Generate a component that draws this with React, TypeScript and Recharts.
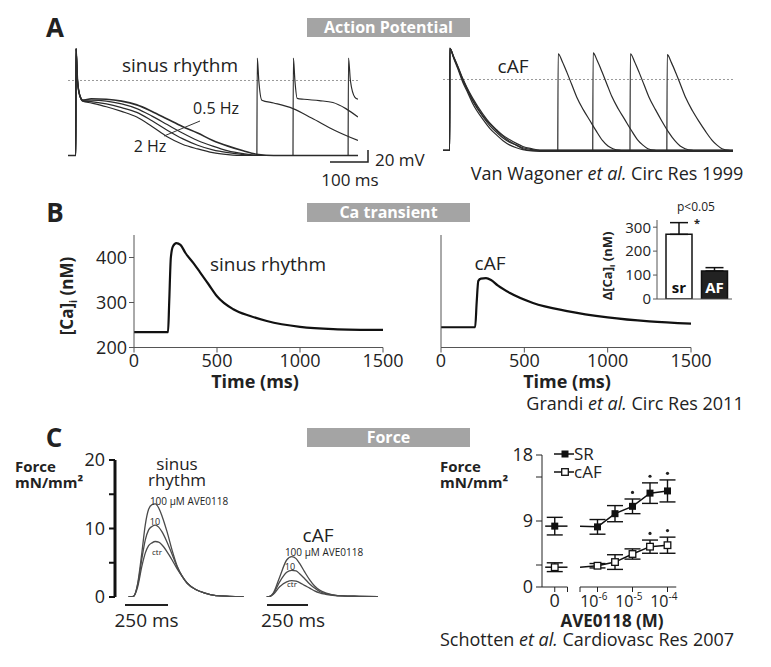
import React from 'react';
import {
  LineChart, Line, XAxis, YAxis, ReferenceLine, BarChart, Bar, Cell, ErrorBar, LabelList, ComposedChart,
} from 'recharts';

// ---- A: action potentials (t in ms from upstroke, V in mV)
const AP_SR_T = [-21, -0.5, 0, 4, 10, 18, 40, 80, 120, 160, 200, 240, 280, 320, 360, 400, 440, 480, 520, 600, 742];
const AP_SR_05HZ = [-80, -80, 34, 0, -16, -21, -19.5, -20, -22, -26, -33, -41, -49, -56, -64, -70, -75, -79, -80, -80, -80];
const AP_SR_B = [-80, -80, 34, 0, -16, -21, -21, -22, -25, -30, -38, -47, -56, -64, -70, -75, -78, -80, -80, -80, -80];
const AP_SR_C = [-80, -80, 34, 0, -16, -22, -22.5, -25, -29, -34, -43, -53, -62, -69, -74, -77, -79, -80, -80, -80, -80];
const AP_SR_2HZ = [-80, -80, 34, 0, -16, -22, -24, -28, -33, -39, -49, -60, -68, -73, -77, -79, -80, -80, -80, -80, -80];

const AP_SR_S1_T = [476, 477, 481, 489, 520, 571, 620, 680, 742];
const AP_SR_S1 = [-80, 24, 0, -21, -24, -30, -40, -53, -64];
const AP_SR_S2_T = [571, 572, 576, 582, 600, 640, 676, 710, 742];
const AP_SR_S2 = [-80, 24, 0, -19, -20, -21.5, -23.5, -30, -39];
const AP_SR_S3_T = [716, 717, 722, 734, 742];
const AP_SR_S3 = [-80, 24, 0, -18, -20];

const AP_AF_T = [-18, -0.5, 0, 10, 21, 34, 45, 60, 87, 105, 124, 140, 158, 175, 192, 215, 237, 745];
const AP_AF_1 = [-80, -80, 35, 25, 13.5, -1, -11, -24, -42, -52, -60, -66, -71, -74, -77, -79, -80, -80];
const AP_AF_2 = [-80, -80, 35, 26, 15, 1, -9, -21, -39, -49, -57, -63, -68, -72, -75.5, -78, -79.5, -79.5];
const AP_AF_3 = [-80, -80, 35, 24, 12, -3, -13, -27, -45, -55, -63, -69, -74, -77, -79, -80.5, -81, -81];
const AP_AF_4 = [-80, -80, 35, 25, 14, 0, -10, -23, -41, -50, -58, -64, -70, -74, -78, -80, -80.5, -80.5];

const AP_AF_S1_T = [284, 285, 296, 308, 321, 334, 351, 368, 385, 402, 416, 429, 449];
const AP_AF_S1 = [-80, 29, 20, 8, -6, -20, -34, -46, -58, -69, -75, -78, -80];
const AP_AF_S2_T = [376, 377, 388, 400, 413, 426, 443, 460, 477, 494, 508, 521, 541];
const AP_AF_S2 = [-80, 30, 21, 9, -5, -19, -33, -45, -57, -68, -74, -78, -80];
const AP_AF_S3_T = [474, 475, 486, 498, 511, 524, 541, 558, 575, 592, 606, 619, 639];
const AP_AF_S3 = [-80, 29, 20, 8, -6, -20, -34, -47, -59, -69, -75, -78, -80];
const AP_AF_S4_T = [571, 572, 583, 595, 608, 621, 638, 655, 672, 689, 703, 716, 736];
const AP_AF_S4 = [-80, 28, 19, 7, -7, -21, -35, -47, -58, -68, -74, -78, -80];

// ---- B: Ca transients ([Ca]i nM vs ms)
const CA_SR_T = [0, 205, 212, 222, 235, 255, 280, 310, 357, 398, 450, 500, 598, 700, 800, 1000, 1200, 1500];
const CA_SR = [234, 234, 300, 400, 425, 432, 428, 410, 388, 367, 340, 314, 285, 270, 259, 246, 241, 239];
const CA_AF_T = [0, 205, 214, 224, 240, 270, 300, 340, 414, 552, 757, 1000, 1250, 1500];
const CA_AF = [245, 245, 300, 348, 353, 354, 350, 338, 321, 299, 281, 267, 258, 253];

const DCA_GROUPS = ['sr', 'AF'];
const DCA_VALUES = [270, 117];
const DCA_ERR = [49, 14];

// ---- C: force traces (mN/mm2 vs ms)
const FORCE_SR_T = [0, 30, 55, 80, 100, 120, 140, 160, 180, 200, 230, 260, 290, 320, 350, 400, 450, 520, 600, 685];
const FORCE_SR_100 = [0, 0.1, 2, 6.5, 10.5, 12.8, 13.5, 13.6, 13, 11.8, 9.5, 6.8, 4.5, 3, 2, 1.1, 0.6, 0.2, 0.1, 0.05];
const FORCE_SR_10 = [0, 0.1, 1.8, 5.6, 8.3, 9.8, 10.3, 10.5, 10.2, 9.5, 8.0, 6.2, 4.4, 3, 2, 1.1, 0.6, 0.2, 0.1, 0.05];
const FORCE_SR_CTR = [0, 0.1, 1.5, 4.5, 6.4, 7.5, 7.9, 8.1, 8.0, 7.6, 6.6, 5.4, 4.1, 3.0, 2.0, 1.1, 0.6, 0.2, 0.1, 0.05];

const FORCE_AF_T = [0, 20, 40, 77, 119, 149, 175, 196, 225, 256, 285, 315, 350, 393, 450, 550, 661];
const FORCE_AF_100 = [0, 0.1, 0.6, 2.9, 5.4, 5.9, 5.6, 4.9, 3.7, 2.5, 1.6, 1.0, 0.6, 0.3, 0.15, 0.1, 0.05];
const FORCE_AF_10 = [0, 0.1, 0.5, 2.2, 3.6, 3.9, 3.8, 3.4, 2.7, 1.9, 1.3, 0.8, 0.5, 0.3, 0.15, 0.1, 0.05];
const FORCE_AF_CTR = [0, 0.1, 0.4, 1.5, 2.2, 2.4, 2.3, 2.1, 1.7, 1.3, 0.9, 0.6, 0.4, 0.25, 0.15, 0.1, 0.05];

// concentration-response, log10 M
const CONC_LOG = [-6, -5.5, -5, -4.5, -4];
const SR_CTRL = 8.3;
const SR_CTRL_ERR = 1.2;
const SR_FORCE = [8.2, 10.0, 11.0, 12.8, 13.1];
const SR_FORCE_ERR = [1.0, 1.1, 1.0, 1.4, 1.5];
const SR_SIG = [false, false, true, true, true];
const AF_CTRL = 2.7;
const AF_CTRL_ERR = 0.6;
const AF_FORCE = [2.9, 3.4, 4.5, 5.5, 5.7];
const AF_FORCE_ERR = [0.3, 1.0, 0.7, 0.9, 1.1];
const AF_SIG = [false, false, false, true, true];

const FONT = '"Open Sans", sans-serif';
const INK = '#222';

const rows = (xs: number[], ys: number[]) => xs.map((x, i) => ({ x, v: ys[i] }));

type P4 = [number, number, number, number];
// places a chart so that its plot area lands on page rect p
function frame(p: P4, yw = 0, xh = 0, pad = 14, padR = pad) {
  const [x0, y0, x1, y1] = p;
  return {
    style: { position: 'absolute' as const, left: x0 - pad - yw, top: y0 - pad },
    width: x1 - x0 + pad + padR + yw,
    height: y1 - y0 + 2 * pad + xh,
    margin: { top: pad, right: padR, bottom: pad, left: pad },
  };
}

type TProps = {
  x: number; y: number; s: number; b?: boolean; a?: 'start' | 'middle' | 'end'; c?: string; rot?: number; lh?: number;
  children: React.ReactNode;
};
const T = ({ x, y, s, b, a = 'middle', c = INK, rot, lh, children }: TProps) => {
  const tx = a === 'start' ? '0%' : a === 'end' ? '-100%' : '-50%';
  return (
    <div style={{
      position: 'absolute', left: x, top: y, transform: `translate(${tx}, -50%)${rot ? ` rotate(${rot}deg)` : ''}`,
      fontSize: s, fontWeight: b ? 700 : 400, color: c, whiteSpace: 'nowrap', lineHeight: lh ? `${lh}px` : 1,
      textAlign: a === 'start' ? 'left' : a === 'end' ? 'right' : 'center',
    }}>{children}</div>
  );
};

const TitleBox = ({ top, text }: { top: number; text: string }) => (
  <div style={{
    position: 'absolute', left: 307, top, width: 163, height: 19, background: '#a4a4a4', color: '#fff',
    fontWeight: 700, fontSize: 16, lineHeight: '19px', textAlign: 'center',
  }}>{text}</div>
);

const PowTick = (props: any) => {
  const { x, y, payload } = props;
  if (payload.value < -6.2) return <g />;
  return (
    <g>
      <text x={x + 1} y={y + 13} textAnchor="end" fontSize={16} fill={INK}>10</text>
      <text x={x + 1} y={y + 6} textAnchor="start" fontSize={10} fill={INK}>{payload.value}</text>
    </g>
  );
};

const filledSq = (p: any) => <rect key={`f${p.index}`} x={p.cx - 3.5} y={p.cy - 3.5} width={7} height={7} fill="#111" />;
const openSq = (p: any) => <rect key={`o${p.index}`} x={p.cx - 3.3} y={p.cy - 3.3} width={6.6} height={6.6} fill="#fff" stroke="#111" strokeWidth={1.3} />;
const starDot = (p: any) => <circle key={`s${p.index}`} cx={p.cx} cy={p.cy} r={1.6} fill={INK} />;

const BarText = (p: any) => {
  const { x, y, width, height, value } = p;
  return (
    <text x={x + width / 2} y={y + height - 6} textAnchor="middle" fontSize={15} fontWeight={700} fill={value === 'AF' ? '#fff' : '#111'}>{value}</text>
  );
};

export default function App() {
  const fA1 = frame([68, 42.5, 358, 159.7]);
  const fA2 = frame([443, 43.5, 733, 154.4]);
  const fB1 = frame([134, 234.5, 383, 347], 45, 30, 14, 28);
  const fB2 = frame([441, 234.5, 691, 347], 45, 30, 14, 28);
  const fBi = frame([657, 220, 732, 299], 34, 2);
  const fC1 = frame([114.5, 460, 245.6, 597], 40, 0);
  const fC2 = frame([265.3, 460, 379.6, 597]);
  const fR1 = frame([541.5, 455, 567, 587], 42, 26);
  const fR2 = frame([579.5, 455, 675.75, 587], 0, 26);

  const apLine = (data: { x: number; v: number }[], key: string, w = 1.2) => (
    <Line key={key} data={data} dataKey="v" type="monotone" stroke="#2b2b2b" strokeWidth={w} dot={false} isAnimationActive={false} />
  );
  const forceLine = (data: { x: number; v: number }[], key: string) => (
    <Line key={key} data={data} dataKey="v" type="monotone" stroke="#4a4a4a" strokeWidth={1.3} dot={false} isAnimationActive={false} />
  );

  const dcaRows = DCA_GROUPS.map((g, i) => ({ g, v: DCA_VALUES[i], e: [0, DCA_ERR[i]] }));
  const srRows = CONC_LOG.map((x, i) => ({ x, v: SR_FORCE[i], e: SR_FORCE_ERR[i] }));
  const afRows = CONC_LOG.map((x, i) => ({ x, v: AF_FORCE[i], e: AF_FORCE_ERR[i] }));
  const srStars = CONC_LOG.map((x, i) => ({ x, v: SR_FORCE[i] + SR_FORCE_ERR[i] + 0.9 })).filter((_, i) => SR_SIG[i]);
  const afStars = CONC_LOG.map((x, i) => ({ x, v: AF_FORCE[i] + AF_FORCE_ERR[i] + 0.9 })).filter((_, i) => AF_SIG[i]);

  const axisTick = { fontSize: 18, fill: INK };

  return (
    <div style={{ position: 'absolute', left: 0, top: 0, width: 771, height: 667, background: '#fff', fontFamily: FONT, color: INK, overflow: 'hidden' }}>
      {/* ---------------- A ---------------- */}
      <T x={55} y={27} s={26} b>A</T>
      <TitleBox top={18} text="Action Potential" />

      <div style={fA1.style}>
        <LineChart width={fA1.width} height={fA1.height} margin={fA1.margin}>
          <XAxis type="number" dataKey="x" domain={[-21, 742]} hide allowDataOverflow />
          <YAxis type="number" domain={[-85, 40]} hide allowDataOverflow />
          <ReferenceLine y={0} stroke="#999" strokeDasharray="2 2" />
          {apLine(rows(AP_SR_T, AP_SR_2HZ), 'a4')}
          {apLine(rows(AP_SR_T, AP_SR_C), 'a3')}
          {apLine(rows(AP_SR_T, AP_SR_B), 'a2')}
          {apLine(rows(AP_SR_T, AP_SR_05HZ), 'a1', 1.6)}
          {apLine(rows(AP_SR_S1_T, AP_SR_S1), 's1')}
          {apLine(rows(AP_SR_S2_T, AP_SR_S2), 's2')}
          {apLine(rows(AP_SR_S3_T, AP_SR_S3), 's3')}
        </LineChart>
      </div>
      <T x={180} y={65} s={19}>sinus rhythm</T>
      <T x={216} y={108} s={16}>0.5 Hz</T>
      <T x={150} y={146} s={16}>2 Hz</T>

      <div style={fA2.style}>
        <LineChart width={fA2.width} height={fA2.height} margin={fA2.margin}>
          <XAxis type="number" dataKey="x" domain={[-18, 745]} hide allowDataOverflow />
          <YAxis type="number" domain={[-85, 40]} hide allowDataOverflow />
          <ReferenceLine y={0} stroke="#999" strokeDasharray="2 2" />
          {apLine(rows(AP_AF_T, AP_AF_1), 'f1')}
          {apLine(rows(AP_AF_T, AP_AF_2), 'f2')}
          {apLine(rows(AP_AF_T, AP_AF_3), 'f3')}
          {apLine(rows(AP_AF_T, AP_AF_4), 'f4')}
          {apLine(rows(AP_AF_S1_T, AP_AF_S1), 'g1')}
          {apLine(rows(AP_AF_S2_T, AP_AF_S2), 'g2')}
          {apLine(rows(AP_AF_S3_T, AP_AF_S3), 'g3')}
          {apLine(rows(AP_AF_S4_T, AP_AF_S4), 'g4')}
        </LineChart>
      </div>
      <T x={513} y={66} s={19}>cAF</T>
      <T x={375} y={159} s={17} a="start">20 mV</T>
      <T x={350} y={179} s={17}>100 ms</T>
      <T x={607} y={173} s={18}>Van Wagoner <span style={{ fontStyle: 'italic' }}>et al.</span> Circ Res 1999</T>

      {/* ---------------- B ---------------- */}
      <T x={55} y={212} s={26} b>B</T>
      <TitleBox top={203} text="Ca transient" />

      <div style={fB1.style}>
        <LineChart width={fB1.width} height={fB1.height} margin={fB1.margin}>
          <XAxis type="number" dataKey="x" domain={[0, 1500]} ticks={[0, 500, 1000, 1500]} interval={0} tick={axisTick} stroke="#555" tickSize={5} height={30} allowDataOverflow />
          <YAxis type="number" domain={[200, 450]} ticks={[200, 300, 400]} interval={0} tick={axisTick} stroke="#555" tickSize={5} width={45} allowDataOverflow />
          <Line data={rows(CA_SR_T, CA_SR)} dataKey="v" type="monotone" stroke="#111" strokeWidth={2.2} dot={false} isAnimationActive={false} />
        </LineChart>
      </div>
      <T x={268} y={264} s={19}>sinus rhythm</T>
      <T x={255} y={381} s={18} b>Time (ms)</T>
      <T x={68} y={296} s={17} b rot={-90}>[Ca]<sub style={{ fontSize: '0.6em' }}>i</sub> (nM)</T>

      <div style={fB2.style}>
        <LineChart width={fB2.width} height={fB2.height} margin={fB2.margin}>
          <XAxis type="number" dataKey="x" domain={[0, 1500]} ticks={[0, 500, 1000, 1500]} interval={0} tick={axisTick} stroke="#555" tickSize={5} height={30} allowDataOverflow />
          <YAxis type="number" domain={[200, 450]} ticks={[200, 300, 400]} tick={false} stroke="#555" tickSize={5} width={45} allowDataOverflow />
          <Line data={rows(CA_AF_T, CA_AF)} dataKey="v" type="monotone" stroke="#111" strokeWidth={2.2} dot={false} isAnimationActive={false} />
        </LineChart>
      </div>
      <T x={490} y={263} s={19}>cAF</T>
      <T x={567} y={381} s={18} b>Time (ms)</T>

      <div style={fBi.style}>
        <BarChart width={fBi.width} height={fBi.height} margin={fBi.margin} data={dcaRows}>
          <XAxis dataKey="g" tick={false} tickLine={false} stroke="#555" height={2} padding={{ left: 4, right: 0 }} />
          <YAxis type="number" domain={[0, 330]} ticks={[0, 100, 200, 300]} interval={0} tick={{ fontSize: 15, fill: INK }} stroke="#555" tickSize={4} width={34} allowDataOverflow />
          <Bar dataKey="v" barSize={26} stroke="#111" strokeWidth={1.5} isAnimationActive={false}>
            {dcaRows.map((r) => <Cell key={r.g} fill={r.g === 'AF' ? '#222' : '#fff'} />)}
            <ErrorBar dataKey="e" width={9} stroke="#111" strokeWidth={1.5} direction="y" />
            <LabelList dataKey="g" content={BarText} />
          </Bar>
        </BarChart>
      </div>
      <T x={609} y={266} s={13} b rot={-90}>Δ[Ca]<sub style={{ fontSize: '0.6em' }}>i</sub> (nM)</T>
      <T x={696} y={207} s={12}>p&lt;0.05</T>
      <T x={697} y={222} s={11} b>*</T>
      <T x={635} y={403} s={18}>Grandi <span style={{ fontStyle: 'italic' }}>et al.</span> Circ Res 2011</T>

      {/* ---------------- C ---------------- */}
      <T x={54} y={437} s={26} b>C</T>
      <TitleBox top={428} text="Force" />

      <T x={15} y={474} s={15} b a="start" lh={16}>Force<br />mN/mm²</T>
      <div style={fC1.style}>
        <LineChart width={fC1.width} height={fC1.height} margin={fC1.margin}>
          <XAxis type="number" dataKey="x" domain={[-80, 700]} hide allowDataOverflow />
          <YAxis type="number" domain={[0, 20]} ticks={[0, 5, 10, 15, 20]} interval={0}
            tickFormatter={(v: number) => (v % 10 === 0 ? String(v) : '')}
            tick={axisTick} axisLine={{ stroke: '#111', strokeWidth: 3 }} tickLine={{ stroke: '#111', strokeWidth: 2 }}
            tickSize={6} tickMargin={4} width={40} allowDataOverflow />
          {forceLine(rows(FORCE_SR_T, FORCE_SR_CTR), 'c')}
          {forceLine(rows(FORCE_SR_T, FORCE_SR_10), 'b')}
          {forceLine(rows(FORCE_SR_T, FORCE_SR_100), 'a')}
        </LineChart>
      </div>
      <T x={177} y={471.5} s={17} lh={16}>sinus<br />rhythm</T>
      <T x={189} y={501} s={10}>100 µM AVE0118</T>
      <T x={155} y={521} s={9}>10</T>
      <T x={157} y={552} s={8}>ctr</T>

      <div style={fC2.style}>
        <LineChart width={fC2.width} height={fC2.height} margin={fC2.margin}>
          <XAxis type="number" dataKey="x" domain={[-10, 670]} hide allowDataOverflow />
          <YAxis type="number" domain={[0, 20]} hide allowDataOverflow />
          {forceLine(rows(FORCE_AF_T, FORCE_AF_CTR), 'c')}
          {forceLine(rows(FORCE_AF_T, FORCE_AF_10), 'b')}
          {forceLine(rows(FORCE_AF_T, FORCE_AF_100), 'a')}
        </LineChart>
      </div>
      <T x={318} y={535} s={19}>cAF</T>
      <T x={324} y={552} s={10}>100 µM AVE0118</T>
      <T x={290} y={566} s={9}>10</T>
      <T x={292} y={584} s={8}>ctr</T>
      <T x={146.5} y={620} s={19}>250 ms</T>
      <T x={293} y={620} s={19}>250 ms</T>

      {/* concentration-response */}
      <T x={440} y={474} s={15} b a="start" lh={16}>Force<br />mN/mm²</T>
      <div style={fR1.style}>
        <ComposedChart width={fR1.width} height={fR1.height} margin={fR1.margin}>
          <XAxis type="number" dataKey="x" domain={[-1, 1]} ticks={[0, 1]} interval={0}
            tickFormatter={(v: number) => (v === 0 ? '0' : '')} tick={axisTick} stroke="#222" tickSize={5} height={26} allowDataOverflow />
          <YAxis type="number" domain={[0, 18]} ticks={[0, 3, 9, 15, 18]} interval={0}
            tickFormatter={(v: number) => (v % 9 === 0 ? String(v) : '')} tick={axisTick} stroke="#222" tickSize={6} tickMargin={3} width={42} allowDataOverflow />
          <ReferenceLine segment={[{ x: -0.75, y: SR_CTRL }, { x: 1, y: SR_CTRL }]} stroke="#111" strokeWidth={1.5} />
          <ReferenceLine segment={[{ x: -0.75, y: AF_CTRL }, { x: 1, y: AF_CTRL }]} stroke="#111" strokeWidth={1.5} />
          <Line data={[{ x: 0, v: SR_CTRL, e: SR_CTRL_ERR }]} dataKey="v" stroke="#111" dot={filledSq} isAnimationActive={false}>
            <ErrorBar dataKey="e" width={8} stroke="#111" strokeWidth={1.4} direction="y" />
          </Line>
          <Line data={[{ x: 0, v: AF_CTRL, e: AF_CTRL_ERR }]} dataKey="v" stroke="#111" dot={openSq} isAnimationActive={false}>
            <ErrorBar dataKey="e" width={8} stroke="#111" strokeWidth={1.4} direction="y" />
          </Line>
        </ComposedChart>
      </div>
      <div style={fR2.style}>
        <ComposedChart width={fR2.width} height={fR2.height} margin={fR2.margin}>
          <XAxis type="number" dataKey="x" domain={[-6.5, -3.75]} ticks={[-6.5, -6, -5, -4]} interval={0}
            tick={<PowTick />} stroke="#222" tickSize={5} height={26} allowDataOverflow />
          <YAxis type="number" domain={[0, 18]} hide allowDataOverflow />
          <Line data={[{ x: -6.5, v: SR_CTRL }, { x: CONC_LOG[0], v: SR_FORCE[0] }]} dataKey="v" stroke="#111" strokeWidth={1.5} dot={false} isAnimationActive={false} />
          <Line data={[{ x: -6.5, v: AF_CTRL }, { x: CONC_LOG[0], v: AF_FORCE[0] }]} dataKey="v" stroke="#111" strokeWidth={1.5} dot={false} isAnimationActive={false} />
          <Line data={srRows} dataKey="v" stroke="#111" strokeWidth={1.5} dot={filledSq} isAnimationActive={false}>
            <ErrorBar dataKey="e" width={8} stroke="#111" strokeWidth={1.4} direction="y" />
          </Line>
          <Line data={afRows} dataKey="v" stroke="#111" strokeWidth={1.5} dot={openSq} isAnimationActive={false}>
            <ErrorBar dataKey="e" width={8} stroke="#111" strokeWidth={1.4} direction="y" />
          </Line>
          <Line data={srStars} dataKey="v" stroke="none" dot={starDot} isAnimationActive={false} />
          <Line data={afStars} dataKey="v" stroke="none" dot={starDot} isAnimationActive={false} />
        </ComposedChart>
      </div>
      <svg width={60} height={34} style={{ position: 'absolute', left: 552, top: 445 }}>
        <line x1={2} y1={9} x2={22} y2={9} stroke="#111" strokeWidth={1.5} />
        <rect x={9.5} y={5.5} width={7} height={7} fill="#111" />
        <line x1={2} y1={27} x2={22} y2={27} stroke="#111" strokeWidth={1.5} />
        <rect x={9.7} y={23.7} width={6.6} height={6.6} fill="#fff" stroke="#111" strokeWidth={1.3} />
      </svg>
      <T x={574} y={463} s={17} a="start" lh={18}>SR<br />cAF</T>
      <T x={612} y={620} s={17} b>AVE0118 (M)</T>
      <T x={587} y={639} s={18}>Schotten <span style={{ fontStyle: 'italic' }}>et al.</span> Cardiovasc Res 2007</T>

      {/* scale bars and pointer */}
      <svg width={771} height={667} style={{ position: 'absolute', left: 0, top: 0, pointerEvents: 'none' }}>
        <line x1={200} y1={121} x2={164} y2={136} stroke="#333" strokeWidth={1} />
        <polyline points="330,162 368,162 368,150" fill="none" stroke="#222" strokeWidth={1.5} />
        <line x1={125} y1={605} x2={168} y2={605} stroke="#222" strokeWidth={2} />
        <line x1={267} y1={605} x2={308} y2={605} stroke="#222" strokeWidth={2} />
      </svg>
    </div>
  );
}
